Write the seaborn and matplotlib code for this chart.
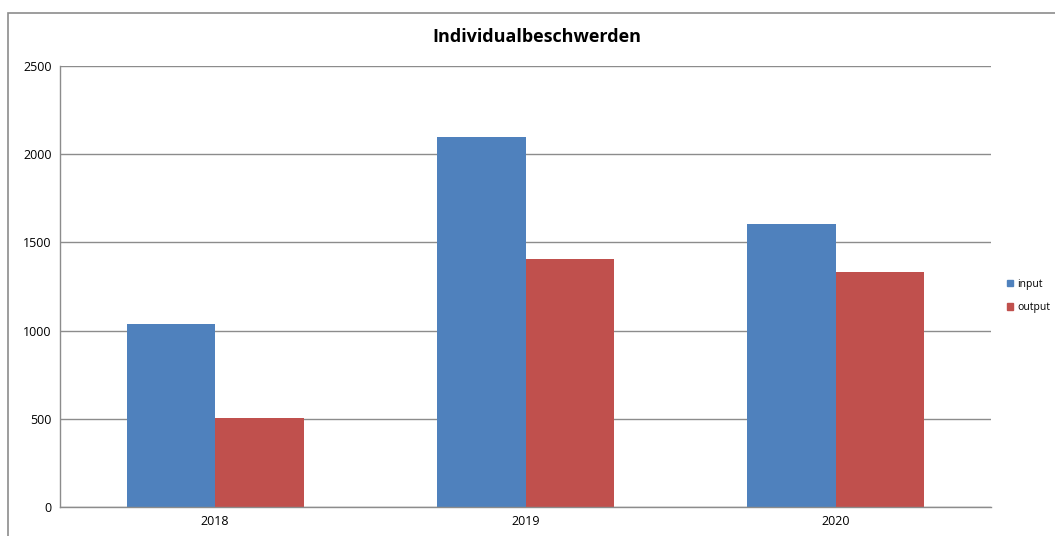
import matplotlib.pyplot as plt
import matplotlib.patches as mpatches
import seaborn as sns
import pandas as pd

years = ['2018', '2019', '2020']
input_vals = [1038, 2098, 1603]
output_vals = [506, 1406, 1335]
series = ['input', 'output']
colors = ['#4F81BD', '#C0504D']

df = pd.DataFrame({
    'Year': years * 2,
    'Value': input_vals + output_vals,
    'Series': ['input'] * 3 + ['output'] * 3,
})

sns.set_style('white')
plt.rcParams['font.family'] = ['Open Sans', 'DejaVu Sans']
plt.rcParams['text.color'] = 'black'

fig = plt.figure(figsize=(10.55, 5.36), dpi=100)
ax = fig.add_axes([60 / 1055, 1 - 507 / 536, 931 / 1055, 441 / 536])

sns.barplot(data=df, x='Year', y='Value', hue='Series', hue_order=series,
            palette=colors, width=0.57, saturation=1, ax=ax, legend=False,
            linewidth=0)

ax.set_ylim(0, 2500)
ax.set_yticks(range(0, 2501, 500))
ax.set_xlim(-0.5, 2.5)
ax.grid(axis='y', color='#8c8c8c', linewidth=1)
ax.set_axisbelow(True)
for s in ['top', 'right']:
    ax.spines[s].set_visible(False)
for s in ['left', 'bottom']:
    ax.spines[s].set_color('#8c8c8c')
    ax.spines[s].set_linewidth(1)
ax.tick_params(length=0, labelsize=9, colors='black', pad=6)
ax.set_xlabel('')
ax.set_ylabel('')

# title
fig.text(537 / 1055, 1 - 37 / 536, 'Individualbeschwerden', ha='center', va='center',
         fontsize=13, fontweight='bold', color='black')

# legend
handles = [mpatches.Patch(color=c, label=l) for c, l in zip(colors, series)]
fig.legend(handles=handles, loc='center left', bbox_to_anchor=(1007 / 1055, 1 - 296 / 536),
           frameon=False, fontsize=7.5, handlelength=0.6, handleheight=0.6,
           handletextpad=0.4, labelspacing=1.2, borderpad=0, borderaxespad=0)

# outer chart frame
fig.patches.append(mpatches.Rectangle((8 / 1055, -0.1), 1.2, 1 - 13 / 536 + 0.1,
                                      transform=fig.transFigure, fill=False,
                                      edgecolor='#8c8c8c', linewidth=1.2))

fig.savefig('out.png', dpi=100)
